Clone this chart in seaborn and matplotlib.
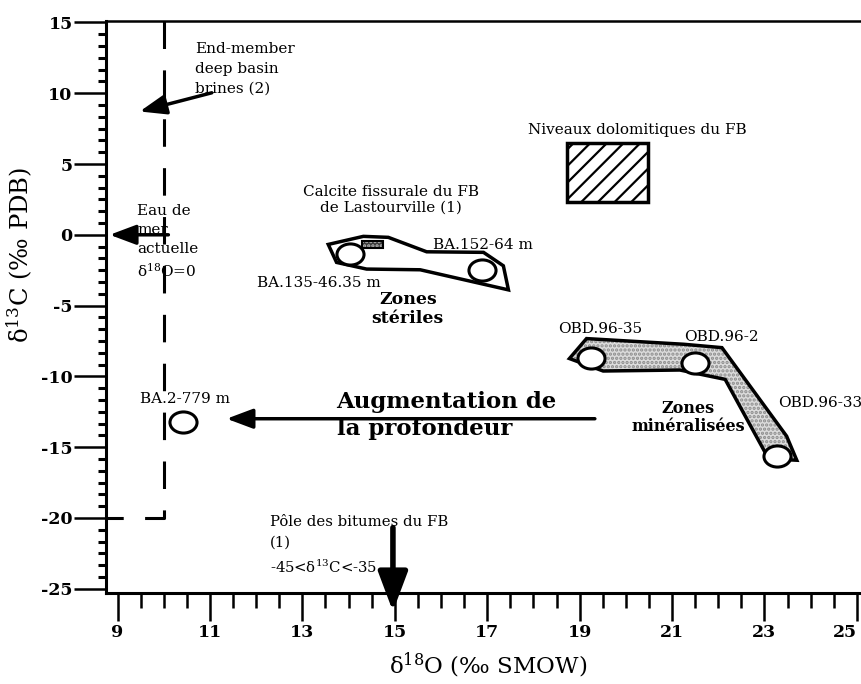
import matplotlib
matplotlib.use("Agg")
import matplotlib.pyplot as plt
import seaborn as sns
from matplotlib.patches import Polygon, Rectangle
from matplotlib.path import Path
from matplotlib.ticker import MultipleLocator, AutoMinorLocator
import matplotlib.transforms as mtransforms

# --- data ---
sample_names = ["BA.2-779 m", "BA.135-46.35 m", "BA.152-64 m",
                "OBD.96-35", "OBD.96-2", "OBD.96-33"]
d18O = [10.41, 14.04, 16.88, 19.24, 21.50, 23.28]
d13C = [-13.25, -1.36, -2.47, -8.67, -9.03, -15.64]

# outline of the "zones steriles" field
steriles_x = [13.56, 14.32, 14.86, 15.69, 16.92, 17.35, 17.46, 15.55, 14.39, 13.74]
steriles_y = [-0.68, -0.11, -0.18, -1.20, -1.24, -2.19, -3.89, -2.47, -2.42, -1.95]

# outline of the "zones mineralisees" field
mineral_x = [18.78, 19.15, 21.25, 22.08, 23.48, 23.70, 23.09, 22.15, 21.17, 19.51]
mineral_y = [-8.74, -7.33, -7.73, -7.97, -14.22, -15.92, -15.82, -10.21, -9.55, -9.62]

# boxes: dolomitic levels of the FB, fissure calcite of Lastourville
dolo_x = [18.73, 20.49]
dolo_y = [2.30, 6.47]
calcite_x = [14.29, 14.75]
calcite_y = [-0.90, -0.42]

# present seawater line (d18O = 0 SMOW ~ 10) and its foot
seawater_x = [10.0, 10.0, 8.75]
seawater_y = [15.1, -20.0, -20.0]

# arrows: (tail, tip)
arrow_brines = [(11.04, 10.03), (9.48, 8.71)]
arrow_sea = [(10.10, 0.0), (8.83, 0.0)]
arrow_depth = [(19.33, -12.99), (11.36, -12.99)]
arrow_bitumen = [(14.96, -20.68), (14.96, -26.6)]

xticks = [9, 11, 13, 15, 17, 19, 21, 23, 25]
yticks = [15, 10, 5, 0, -5, -10, -15, -20, -25]

# --- style ---
sns.set_theme(style="ticks")
plt.rcParams['font.family'] = ['DejaVu Serif', 'DejaVu Sans']
plt.rcParams['mathtext.fontset'] = 'dejavuserif'
plt.rcParams['hatch.linewidth'] = 1.6
for k in ['text.color', 'axes.labelcolor', 'xtick.color', 'ytick.color', 'axes.edgecolor']:
    plt.rcParams[k] = 'black'

fig = plt.figure(figsize=(8.61, 6.84), dpi=100)
ax = fig.add_axes([0.1231, 0.1330, 0.8769, 0.8363])
ax.set_xlim(8.75, 25.09)
ax.set_ylim(-25.3, 15.1)

# fields
ax.add_patch(Polygon(list(zip(mineral_x, mineral_y)), closed=True,
                     facecolor='#dcdcdc', edgecolor='#8c8c8c', hatch='....', lw=0))
ax.add_patch(Polygon(list(zip(mineral_x, mineral_y)), closed=True,
                     facecolor='none', edgecolor='black', lw=2.5, joinstyle='miter'))
ax.add_patch(Polygon(list(zip(steriles_x, steriles_y)), closed=True,
                     facecolor='white', edgecolor='black', lw=2.5, joinstyle='miter'))

ax.add_patch(Rectangle((dolo_x[0], dolo_y[0]), dolo_x[1] - dolo_x[0], dolo_y[1] - dolo_y[0],
                       facecolor='white', edgecolor='black', hatch='//', lw=2.5))
ax.add_patch(Rectangle((calcite_x[0], calcite_y[0]), calcite_x[1] - calcite_x[0],
                       calcite_y[1] - calcite_y[0],
                       facecolor='#3a3a3a', edgecolor='#bbbbbb', hatch='....', lw=0))
ax.add_patch(Rectangle((calcite_x[0], calcite_y[0]), calcite_x[1] - calcite_x[0],
                       calcite_y[1] - calcite_y[0],
                       facecolor='none', edgecolor='black', lw=1.5))

# seawater dashed line
ax.plot(seawater_x, seawater_y, color='black', lw=2.2, dashes=(9, 7), clip_on=False)

# samples: slightly flattened circles
ellipse = Path.unit_circle().transformed(mtransforms.Affine2D().scale(1.0, 0.78))
sns.scatterplot(x=d18O, y=d13C, ax=ax, marker=ellipse, s=380,
                color='white', edgecolor='black', linewidth=2.2, zorder=5)

# arrows
def arrow(pts, lw=2.5, hl=0.8, hw=0.3):
    ax.annotate("", xy=pts[1], xytext=pts[0], annotation_clip=False,
                arrowprops=dict(arrowstyle=f"-|>,head_length={hl},head_width={hw}",
                                mutation_scale=20, lw=lw, color='black',
                                shrinkA=0, shrinkB=0), zorder=6)

arrow(arrow_brines)
arrow(arrow_sea)
arrow(arrow_depth)
arrow(arrow_bitumen, lw=4, hl=1.2, hw=0.45)

# annotations
fs = 11
ax.text(10.67, 13.65, "End-member\ndeep basin\nbrines (2)", fontsize=fs, va='top',
        linespacing=1.55)
ax.text(9.42, 2.2, "Eau de\nmer\nactuelle\nδ$^{18}$O=0", fontsize=fs, va='top',
        linespacing=1.45)
ax.text(14.91, 2.46, "Calcite fissurale du FB\nde Lastourville (1)", fontsize=fs,
        ha='center', va='center', linespacing=1.2)
ax.text(15.83, -0.73, sample_names[2], fontsize=fs, va='center')
ax.text(12.01, -3.37, sample_names[1], fontsize=fs, va='center')
ax.text(15.28, -5.25, "Zones\nstériles", fontsize=12.5, fontweight='bold',
        ha='center', va='center', linespacing=1.15)
ax.text(20.24, 7.41, "Niveaux dolomitiques du FB", fontsize=fs, ha='center', va='center')
ax.text(18.54, -6.67, sample_names[3], fontsize=fs, va='center')
ax.text(21.26, -7.19, sample_names[4], fontsize=fs, va='center')
ax.text(23.30, -11.86, sample_names[5], fontsize=fs, va='center')
ax.text(21.35, -12.9, "Zones\nminéralisées", fontsize=11.5, fontweight='bold',
        ha='center', va='center', linespacing=1.1)
ax.text(13.74, -12.76, "Augmentation de\nla profondeur", fontsize=16.5, fontweight='bold',
        va='center', linespacing=1.3)
ax.text(9.48, -11.62, sample_names[0], fontsize=fs, va='center')
ax.text(12.30, -19.8, "Pôle des bitumes du FB\n(1)\n-45<δ$^{13}$C<-35", fontsize=10.7,
        va='top', linespacing=1.6)

# axes
ax.spines['right'].set_visible(False)
ax.spines['left'].set_linewidth(2.2)
ax.spines['bottom'].set_linewidth(2.2)
ax.spines['top'].set_linewidth(1.8)

ax.set_xticks(xticks)
ax.set_xticklabels([str(v) for v in xticks], fontweight='bold', fontsize=12.5)
ax.set_yticks(yticks)
ax.set_yticklabels([str(v) for v in yticks], fontweight='bold', fontsize=12.5)
ax.xaxis.set_minor_locator(MultipleLocator(0.5))
ax.yaxis.set_minor_locator(AutoMinorLocator(6))
ax.tick_params(axis='x', which='major', direction='out', length=20, width=1.8, pad=2)
ax.tick_params(axis='x', which='minor', direction='out', length=11, width=1.8)
ax.tick_params(axis='y', which='major', direction='out', length=23, width=1.8, pad=1)
ax.tick_params(axis='y', which='minor', direction='out', length=6, width=2.2)

# last x tick label sits at the figure edge: nudge it inside
last = ax.get_xticklabels()[-1]
last.set_transform(last.get_transform() +
                   mtransforms.ScaledTranslation(-12 / 100, 0, fig.dpi_scale_trans))

ax.set_xlabel("δ$^{18}$O (‰ SMOW)", fontsize=16.5)
ax.set_ylabel("δ$^{13}$C (‰ PDB)", fontsize=17.5)
ax.xaxis.set_label_coords(0.506, -0.100)
ax.yaxis.set_label_coords(-0.094, 0.591)

fig.savefig("out.png", dpi=100)
